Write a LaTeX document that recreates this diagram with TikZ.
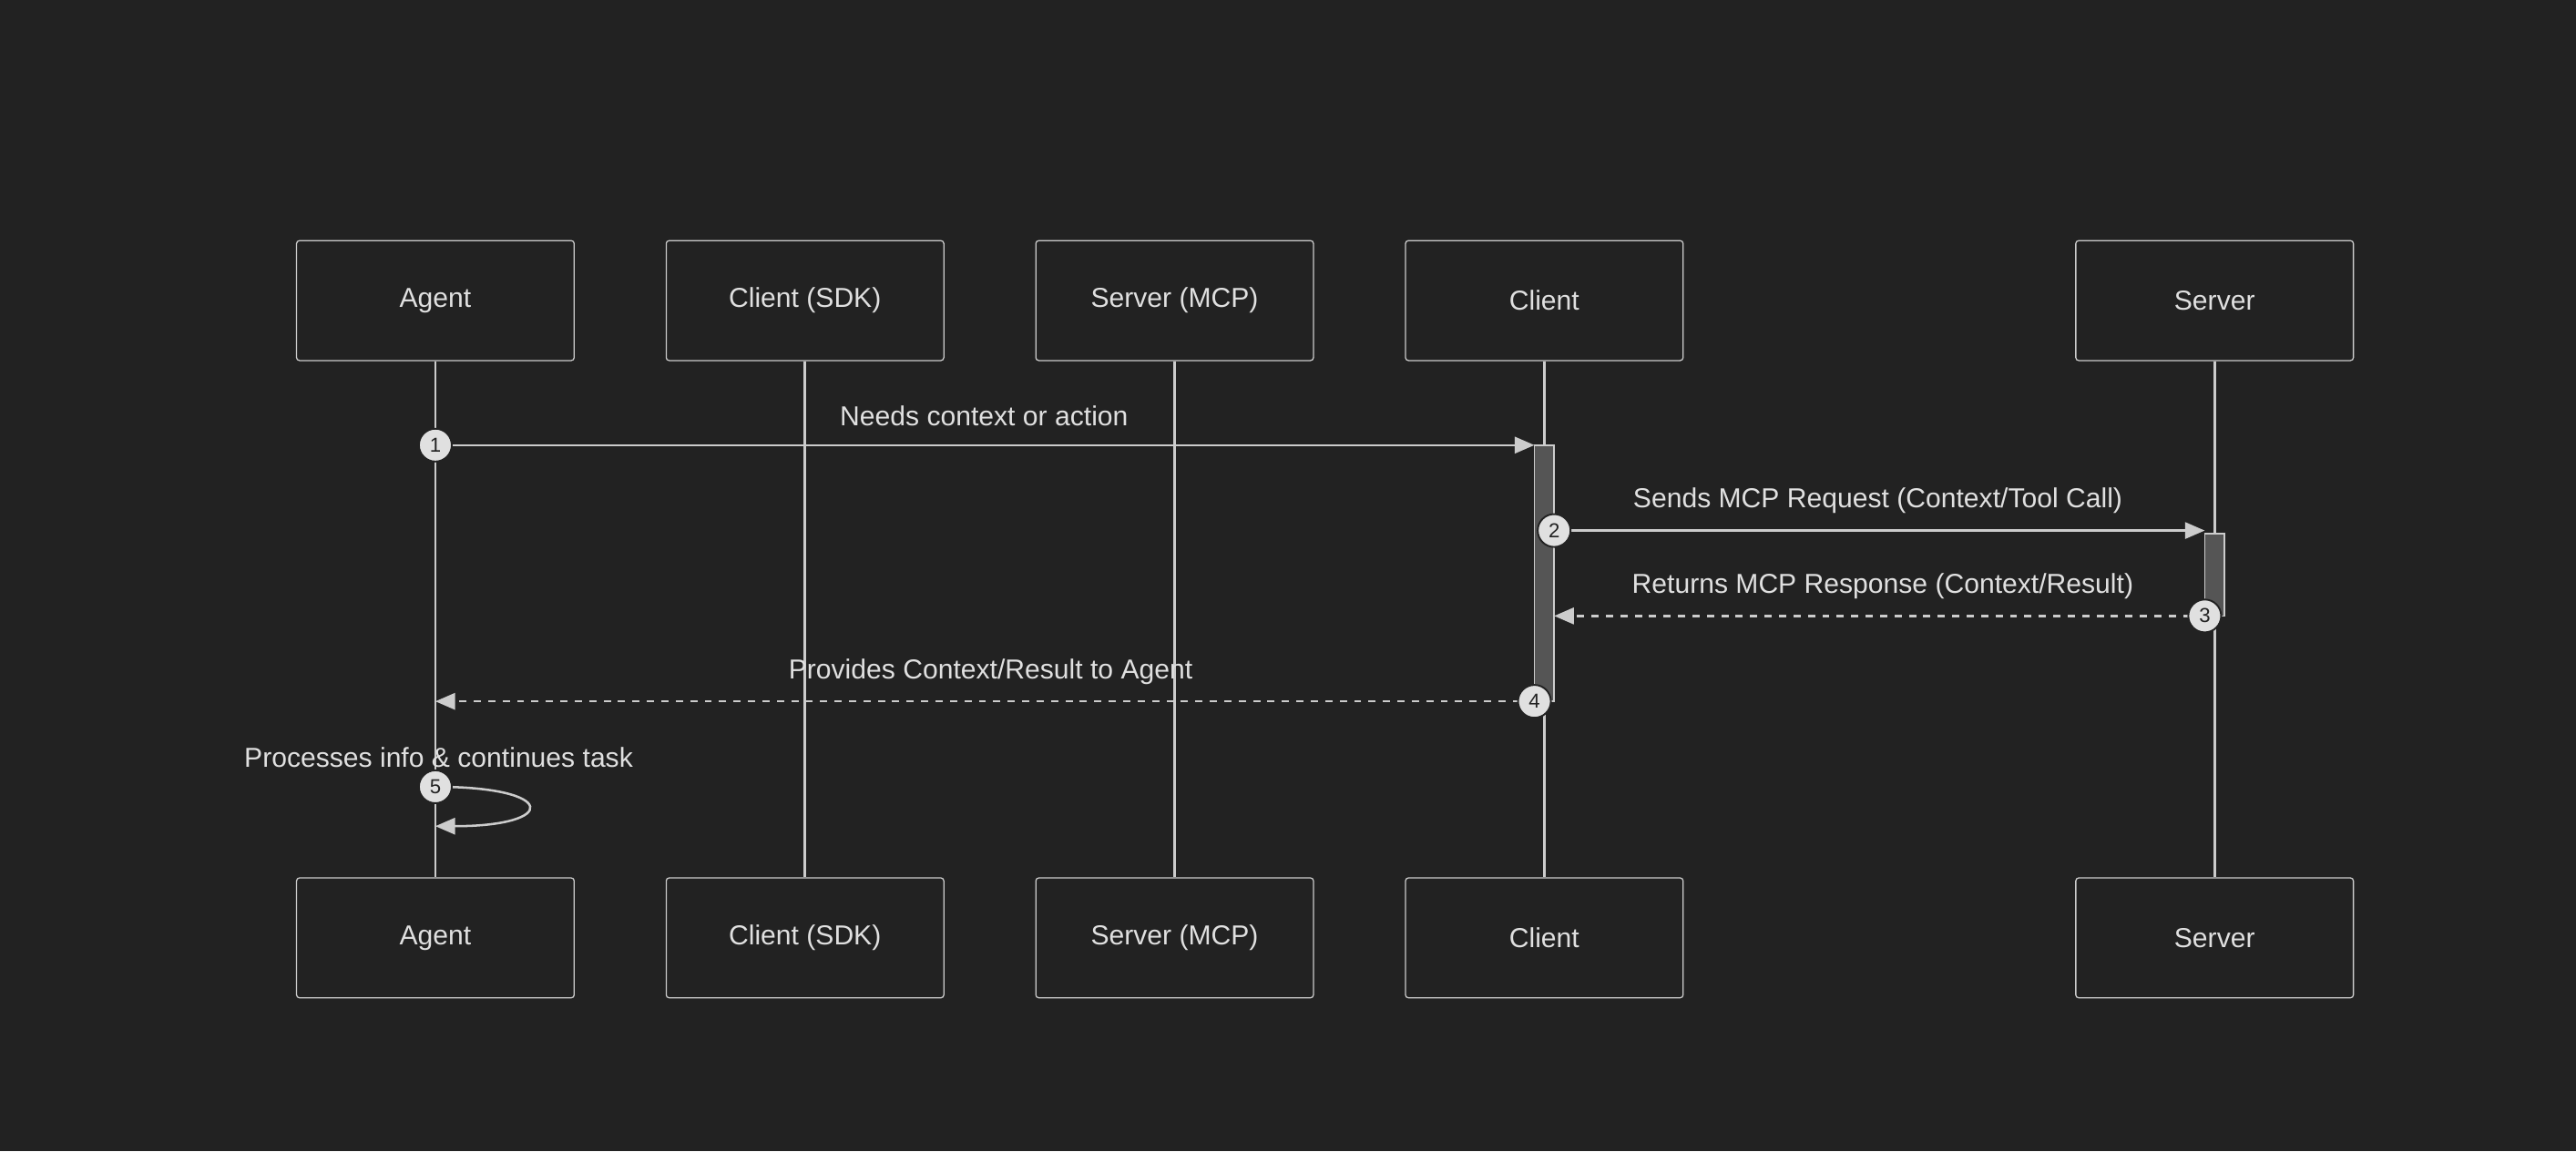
\documentclass[tikz,border=0pt]{standalone}
\usepackage{fontspec}
\setmainfont{Liberation Sans}
\usetikzlibrary{arrows.meta,positioning}
\definecolor{bgc}{HTML}{222222}
\definecolor{linec}{HTML}{CCCCCC}
\definecolor{textc}{HTML}{E0E0E0}
\definecolor{barc}{HTML}{555555}
\tikzset{
	actor/.style={draw=linec, fill=bgc, rounded corners=1pt, minimum width=3.38cm, minimum height=1.46cm, text=textc, font=\fontsize{9.5}{11}\selectfont},
	life/.style={linec, line width=0.8pt},
	msg/.style={linec, line width=0.8pt, -{Triangle[length=0.24cm,width=0.2cm]}},
	reply/.style={msg, dash pattern=on 2.5pt off 2.5pt},
	num/.style={circle, fill=textc, draw=bgc, line width=0.6pt, inner sep=0pt, minimum size=0.4cm, font=\fontsize{7}{8}\selectfont, text=bgc},
	lbl/.style={text=textc, font=\fontsize{9.5}{11}\selectfont},
	bar/.style={draw=linec, fill=barc, line width=0.5pt}
}
\begin{document}
\begin{tikzpicture}[x=0.02cm,y=-0.02cm]
	\fill[bgc] (0,0) rectangle (1568,701);
	% participants
	\foreach \n/\x/\t in {ag/265/Agent, sdk/490/Client (SDK), mcp/715/Server (MCP), cl/940/Client, sv/1348/Server}{
		\node[actor] (\n t) at (\x,183) {\t};
		\node[actor] (\n b) at (\x,571) {\t};
		\draw[life] (\n t) -- (\n b);
	}
	% activations
	\draw[bar] (934,271) rectangle (946,427);
	\draw[bar] (1342,325) rectangle (1354,375);
	% message points
	\coordinate (m1a) at (265,271);
	\coordinate (m1b) at (934,271);
	\coordinate (m2a) at (946,323);
	\coordinate (m2b) at (1342,323);
	\coordinate (m3a) at (1342,375);
	\coordinate (m3b) at (946,375);
	\coordinate (m4a) at (934,427);
	\coordinate (m4b) at (265,427);
	\coordinate (m5a) at (265,479);
	\coordinate (m5b) at (265,503);
	\draw[msg] (m1a) -- (m1b);
	\draw[msg] (m2a) -- (m2b);
	\draw[reply] (m3a) -- (m3b);
	\draw[reply] (m4a) -- (m4b);
	\draw[msg] (m5a) .. controls (340,479) and (340,503) .. (m5b);
	% labels
	\node[lbl] (l1) at (599,253) {Needs context or action};
	\node[lbl] (l2) at (1143,305) {Sends MCP Request (Context/Tool Call)};
	\node[lbl] (l3) at (1146,357) {Returns MCP Response (Context/Result)};
	\node[lbl] (l4) at (603,409) {Provides Context/Result to Agent};
	\node[lbl] (l5) at (267,461) {Processes info \& continues task};
	% numbers
	\node[num] (n1) at (m1a) {1};
	\node[num] (n2) at (m2a) {2};
	\node[num] (n3) at (m3a) {3};
	\node[num] (n4) at (m4a) {4};
	\node[num] (n5) at (m5a) {5};
\end{tikzpicture}
\end{document}
